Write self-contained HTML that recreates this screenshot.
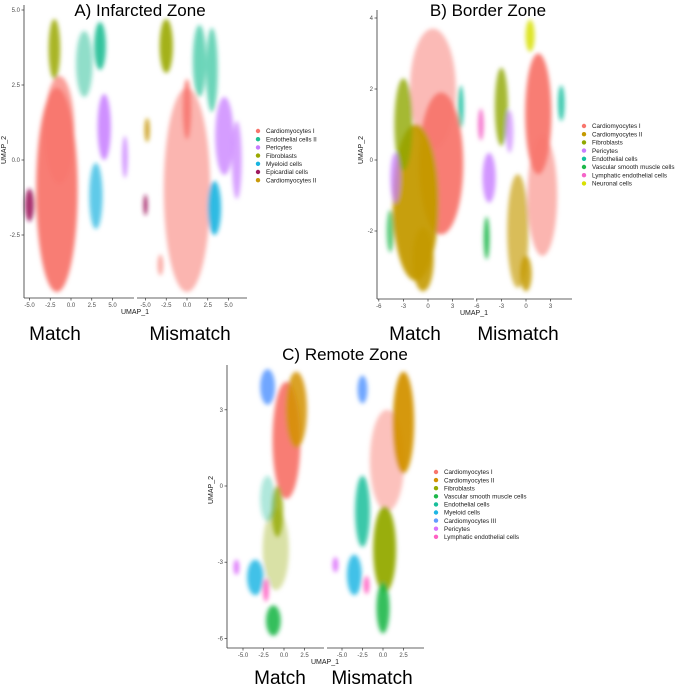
<!DOCTYPE html>
<html><head><meta charset="utf-8">
<style>
body{margin:0;background:#fff;}
svg{display:block;font-family:"Liberation Sans",sans-serif;}
.tick{font-size:6px;fill:#4d4d4d;}
.leg{font-size:6.3px;fill:#1a1a1a;}
.ttl{font-size:17px;fill:#000;font-family:"Liberation Sans",sans-serif;}
.big{font-size:19px;fill:#000;}
.ax{font-size:7px;fill:#1a1a1a;}
</style></head>
<body>
<svg id="fig" width="676" height="687" viewBox="0 0 676 687">
<defs><filter id="soft" x="-50%" y="-50%" width="200%" height="200%"><feGaussianBlur stdDeviation="2.2"/></filter></defs>
</svg>
<script>
// ---- Panel A data (Infarcted Zone) ----
const aLegend = ["Cardiomyocytes I","Endothelial cells II","Pericytes","Fibroblasts","Myeloid cells","Epicardial cells","Cardiomyocytes II"];
const aColors = ["#F8766D","#1DBE94","#C77CFF","#9AA800","#18B4E0","#9E1A5E","#C99A0A"];
const aFacet = [0,0,0,0,0,0,0,0,0, 1,1,1,1,1,1,1,1,1,1,1];
const aType  = [0,0,3,1,1,2,2,4,5, 0,0,3,1,1,2,2,4,5,6,0];
const aCx    = [-1.7,-1.4,-2,3.5,1.6,4,6.5,3,-5, 0,0,-2.5,1.5,3,4.5,6,3.3,-5,-4.8,-3.2];
const aCy    = [-1.0,1.0,3.7,3.8,3.2,1.1,0.1,-1.2,-1.5, -1,1.7,3.8,3.3,3,0.8,0,-1.6,-1.5,1,-3.5];
const aRx    = [2.5,1.8,0.7,0.7,1.0,0.8,0.35,0.8,0.55, 2.8,0.5,0.8,0.8,0.7,1.1,0.6,0.8,0.25,0.3,0.35];
const aRy    = [3.4,1.8,1.0,0.8,1.1,1.1,0.7,1.1,0.55, 3.4,1.0,0.9,1.2,1.4,1.3,1.3,0.9,0.35,0.4,0.35];
const aAlpha = [0.95,0.7,0.85,0.9,0.5,0.85,0.75,0.7,0.9, 0.55,0.85,0.9,0.65,0.65,0.75,0.7,0.9,0.9,0.9,0.6];
const aXTicks = ["-5.0","-2.5","0.0","2.5","5.0"];
const aXVals = [-5,-2.5,0,2.5,5];
const aYTicks = ["5.0","2.5","0.0","-2.5"];
const aYVals = [5,2.5,0,-2.5];
// ---- Panel B data (Border Zone) ----
const bLegend = ["Cardiomyocytes I","Cardiomyocytes II","Fibroblasts","Pericytes","Endothelial cells","Vascular smooth muscle cells","Lymphatic endothelial cells","Neuronal cells"];
const bColors = ["#F8766D","#C49A00","#8FA800","#C77CFF","#14BFA0","#1DB84A","#F564C8","#D8E000"];
const bFacet = [0,0,0,0,0,0,0,0, 1,1,1,1,1,1,1,1,1,1,1];
const bType  = [0,0,1,1,2,3,4,5, 0,0,1,1,2,3,3,6,5,4,7];
const bCx    = [0.6,1.6,-1.5,-0.6,-3,-4,4,-4.6, 2,1.5,-1,0,-3,-4.5,-2,-5.5,-4.8,4.3,0.5];
const bCy    = [2.0,-0.1,-1.2,-2.8,1,-0.5,1.5,-2, -1,1.3,-2,-3.2,1.5,-0.5,0.8,1,-2.2,1.6,3.5];
const bRx    = [2.8,2.7,2.8,1.3,1.1,0.6,0.35,0.45, 1.8,1.6,1.3,0.7,0.8,0.8,0.45,0.35,0.35,0.4,0.55];
const bRy    = [1.7,2.0,2.2,0.9,1.3,0.7,0.6,0.6, 1.7,1.7,1.6,0.5,1.1,0.7,0.6,0.45,0.6,0.5,0.45];
const bAlpha = [0.5,0.95,0.95,0.9,0.8,0.75,0.85,0.7, 0.55,0.95,0.65,0.85,0.8,0.8,0.65,0.85,0.9,0.85,0.85];
const bXTicks = ["-6","-3","0","3"];
const bXVals = [-6,-3,0,3];
const bYTicks = ["4","2","0","-2"];
const bYVals = [4,2,0,-2];
// ---- Panel C data (Remote Zone) ----
const cLegend = ["Cardiomyocytes I","Cardiomyocytes II","Fibroblasts","Vascular smooth muscle cells","Endothelial cells","Myeloid cells","Cardiomyocytes III","Pericytes","Lymphatic endothelial cells"];
const cColors = ["#F8766D","#D39200","#93AA00","#1DB84A","#18BE9A","#1DB6E4","#619CFF","#DB72FB","#FF61C3"];
const cFacet = [0,0,0,0,0,0,0,0,0,0, 1,1,1,1,1,1,1,1,1];
const cType  = [2,0,1,6,2,4,5,7,8,3, 0,1,6,4,2,5,7,8,3];
const cCx    = [-1,0.3,1.5,-2,-0.8,-2,-3.5,-5.8,-2.2,-1.3, 0.5,2.5,-2.5,-2.5,0.2,-3.5,-5.8,-2,0];
const cCy    = [-2.5,1.8,3,3.9,-1,-0.5,-3.6,-3.2,-4.1,-5.3, 1,2.5,3.8,-1,-2.5,-3.5,-3.1,-3.9,-4.8];
const cRx    = [1.6,1.7,1.3,0.9,0.7,0.9,1.0,0.35,0.35,0.9, 2.1,1.3,0.6,0.9,1.4,0.9,0.35,0.35,0.8];
const cRy    = [1.6,2.3,1.5,0.7,1.0,0.9,0.7,0.3,0.45,0.6, 2,2,0.55,1.4,1.7,0.8,0.3,0.35,1.0];
const cAlpha = [0.35,0.95,0.85,0.9,0.8,0.35,0.85,0.9,0.9,0.9, 0.45,0.95,0.9,0.85,0.95,0.85,0.9,0.9,0.9];
const cXTicks = ["-5.0","-2.5","0.0","2.5"];
const cXVals = [-5,-2.5,0,2.5];
const cYTicks = ["3","0","-3","-6"];
const cYVals = [3,0,-3,-6];

const NS="http://www.w3.org/2000/svg";
const svg=document.getElementById('fig');
function mk(tag,attrs,parent,text){const e=document.createElementNS(NS,tag);for(const k in attrs)e.setAttribute(k,attrs[k]);if(text!==undefined)e.textContent=text;(parent||svg).appendChild(e);return e;}

function panel(cfg){
  const g=mk('g',{});
  
  
  const xs=(f,v)=>cfg.x0[f]+v*cfg.kx;
  const ys=v=>cfg.y0+v*-cfg.ky;
  const t=mk('text',{x:cfg.titleX,y:cfg.titleY,'text-anchor':'middle',class:'ttl'},g,cfg.title);
  
  
  const cg=mk('g',{filter:'url(#soft)'},g);
  
  
  for(let i=0;i<cfg.facet.length;i++){
    const e=mk('ellipse',{cx:xs(cfg.facet[i],cfg.cx[i]),cy:ys(cfg.cy[i]),rx:Math.abs(cfg.rx[i]*cfg.kx),ry:Math.abs(cfg.ry[i]*cfg.ky),fill:cfg.colors[cfg.type[i]],'fill-opacity':cfg.alpha[i]},cg);
    
    
  }
  const yl=mk('line',{x1:cfg.axX,y1:cfg.yTop,x2:cfg.axX,y2:cfg.axY,stroke:'#333','stroke-width':0.8},g);
  
  
  cfg.yVals.forEach((v,i)=>{
    mk('line',{x1:cfg.axX-2.5,x2:cfg.axX,y1:ys(v),y2:ys(v),stroke:'#333','stroke-width':0.7},g);
    const tt=mk('text',{x:cfg.axX-4,y:ys(v)+2,'text-anchor':'end',class:'tick'},g,cfg.yTicks[i]);
    
    
  });
  for(let f=0;f<2;f++){
    const xl=mk('line',{x1:cfg.fx[f][0],x2:cfg.fx[f][1],y1:cfg.axY,y2:cfg.axY,stroke:'#333','stroke-width':0.8},g);
    
    
    cfg.xVals.forEach((v,i)=>{
      mk('line',{x1:xs(f,v),x2:xs(f,v),y1:cfg.axY,y2:cfg.axY+2.5,stroke:'#333','stroke-width':0.7},g);
      const tt=mk('text',{x:xs(f,v),y:cfg.axY+9,'text-anchor':'middle',class:'tick'},g,cfg.xTicks[i]);
      
      
    });
  }
  const xt=mk('text',{x:cfg.xLabX,y:cfg.axY+16,'text-anchor':'middle',class:'ax'},g,'UMAP_1');
  
  
  const yt=mk('text',{x:0,y:0,'text-anchor':'middle',class:'ax',transform:`translate(${cfg.axX-cfg.yLabOff},${cfg.yLabY}) rotate(-90)`},g,'UMAP_2');
  
  
  cfg.legend.forEach((s,i)=>{
    const lg=mk('g',{},g);
    
    
    mk('circle',{cx:cfg.legX,cy:cfg.legY+i*cfg.legDy,r:2.2,fill:cfg.colors[i]},lg);
    mk('text',{x:cfg.legX+8,y:cfg.legY+i*cfg.legDy+2.2,class:'leg'},lg,s);
  });
  const m=mk('text',{x:cfg.mX[0],y:cfg.mY,'text-anchor':'middle',class:'big'},g,'Match');
  
  
  const mm=mk('text',{x:cfg.mX[1],y:cfg.mY,'text-anchor':'middle',class:'big'},g,'Mismatch');
  
  
}

panel({name:'panel-a-infarcted-zone',title:'A) Infarcted Zone',titleX:140,titleY:16,
  legend:aLegend,colors:aColors,facet:aFacet,type:aType,cx:aCx,cy:aCy,rx:aRx,ry:aRy,alpha:aAlpha,
  x0:[71,187],kx:8.3,y0:160,ky:30,axX:24,axY:298,yTop:5,fx:[[24,134],[137,247]],
  xTicks:aXTicks,xVals:aXVals,yTicks:aYTicks,yVals:aYVals,xLabX:135,yLabOff:18,yLabY:150,
  legX:258,legY:131,legDy:8.2,mX:[55,190],mY:340});
panel({name:'panel-b-border-zone',title:'B) Border Zone',titleX:488,titleY:16,
  legend:bLegend,colors:bColors,facet:bFacet,type:bType,cx:bCx,cy:bCy,rx:bRx,ry:bRy,alpha:bAlpha,
  x0:[428,526],kx:8.2,y0:160,ky:35.5,axX:377,axY:299,yTop:10,fx:[[377,474],[476,572]],
  xTicks:bXTicks,xVals:bXVals,yTicks:bYTicks,yVals:bYVals,xLabX:474,yLabOff:14,yLabY:150,
  legX:584,legY:126,legDy:8.2,mX:[415,518],mY:340});
panel({name:'panel-c-remote-zone',title:'C) Remote Zone',titleX:345,titleY:360,
  legend:cLegend,colors:cColors,facet:cFacet,type:cType,cx:cCx,cy:cCy,rx:cRx,ry:cRy,alpha:cAlpha,
  x0:[284,383],kx:8.2,y0:486,ky:25.4,axX:227,axY:648,yTop:365,fx:[[227,324],[327,424]],
  xTicks:cXTicks,xVals:cXVals,yTicks:cYTicks,yVals:cYVals,xLabX:325,yLabOff:14,yLabY:490,
  legX:436,legY:472,legDy:8.1,mX:[280,372],mY:684});
</script>
</body></html>
